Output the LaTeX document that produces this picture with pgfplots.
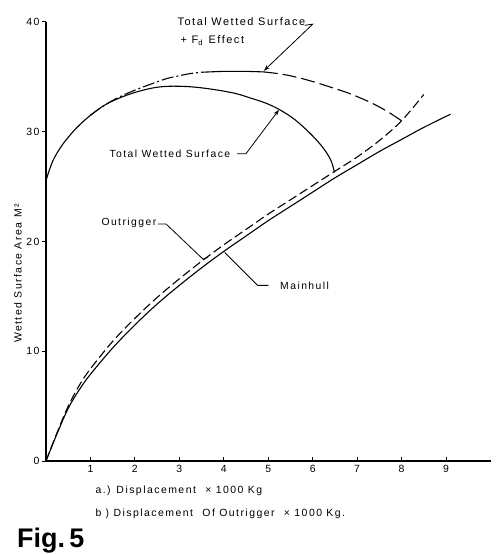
\documentclass[border=0pt]{standalone}
\usepackage{fontspec}
\setmainfont{Liberation Sans}[LetterSpace=14]
\newfontfamily\figfont{Liberation Sans}
\usepackage{pgfplots}
\pgfplotsset{compat=1.18}
\usetikzlibrary{arrows.meta}
\begin{document}
\begin{tikzpicture}
\path[use as bounding box] (0,0) rectangle (500bp,554bp);
\begin{axis}[
  at={(46bp,93bp)}, anchor=south west,
  scale only axis, width=444.5bp, height=439bp,
  xmin=0, xmax=10, ymin=0, ymax=40,
  axis x line=bottom, axis y line=left,
  axis line style={-, line width=1.1pt},
  xtick={1,...,9}, ytick={0,10,20,30,40},
  xtick align=inside, ytick align=outside,
  major tick length=4bp,
  every tick/.style={black, line width=1pt},
  tick label style={font=\fontsize{10.5}{12}\selectfont},
  xticklabel style={yshift=-1bp},
  yticklabel style={xshift=1bp},
  /pgf/number format/assume math mode=true,
  clip=false,
  cycle list={{black,solid,no markers}},
  every axis plot/.append style={black, line width=1.1pt, smooth, tension=0.55, no markers},
]
% Mainhull (solid)
\addplot[solid] coordinates {(0,0) (0.25,2.5) (0.5,4.8) (0.75,6.5) (1,7.9) (1.5,10.3) (2,12.4) (2.5,14.3) (3,16.0) (3.5,17.6) (4,19.1) (4.5,20.5) (5,21.9) (5.5,23.2) (6,24.5) (6.5,25.8) (7,27.0) (7.5,28.2) (8,29.3) (8.5,30.4) (9.1,31.6)};
% Outrigger (dashed)
\addplot[dash pattern=on 9bp off 4bp] coordinates {(0,0) (0.25,2.6) (0.5,5.0) (0.75,6.9) (1,8.4) (1.5,10.9) (2,13.0) (2.5,14.9) (3,16.6) (3.5,18.2) (4,19.7) (4.5,21.1) (5,22.5) (5.5,23.8) (6,25.1) (6.5,26.4) (7,27.7) (7.5,29.2) (8,31.0) (8.5,33.4)};
% Total wetted surface (solid)
\addplot[solid] coordinates {(0,25.5) (0.05,26.2) (0.16,27.4) (0.3,28.4) (0.46,29.3) (0.7,30.4) (1,31.5) (1.35,32.5) (1.73,33.2) (2.1,33.7) (2.49,34.05) (2.85,34.15) (3.24,34.1) (3.6,33.95) (4,33.7) (4.3,33.45) (4.58,33.1) (4.95,32.6) (5.26,32.0) (5.6,31.1) (5.93,29.9) (6.15,28.95) (6.31,28.1) (6.42,27.3) (6.49,26.3)};
% Total wetted surface + Fd effect
\addplot[dash pattern=on 12bp off 3bp on 2bp off 3bp] coordinates {(1,31.5) (1.2,32.1) (1.5,32.85) (1.8,33.45) (2.1,33.95) (2.4,34.4) (2.72,34.85) (3.0,35.1) (3.24,35.3) (3.5,35.42)};
\addplot[solid] coordinates {(3.5,35.42) (4,35.5) (4.5,35.5) (4.9,35.45)};
\addplot[dash pattern=on 14bp off 5bp] coordinates {(4.9,35.45) (5.3,35.25) (5.71,34.9) (6.1,34.45) (6.45,34.0) (6.75,33.6) (7.06,33.1) (7.36,32.55) (7.66,31.9) (7.85,31.4) (8.0,31.0)};

% annotations
\node[anchor=west, font=\fontsize{11}{13}\selectfont] at (axis cs:2.88,40.0) {Total Wetted Surface};
\node[anchor=west, font=\fontsize{11}{13}\selectfont] at (axis cs:2.95,38.3) {+ F\textsubscript{d}\enspace Effect};
\draw[line width=0.8pt, -{Stealth[length=6bp,width=4bp]}] (axis cs:5.82,39.7) -- (axis cs:6.0,39.8) -- (axis cs:4.9,35.55);

\node[anchor=west, font=\fontsize{10.4}{13}\selectfont] at (axis cs:1.35,28.0) {Total Wetted Surface};
\draw[line width=0.8pt, -{Stealth[length=6bp,width=4bp]}] (axis cs:4.3,28.0) -- (axis cs:4.5,28.0) -- (axis cs:5.24,32.0);

\node[anchor=west, font=\fontsize{10.4}{13}\selectfont] at (axis cs:1.17,21.7) {Outrigger};
\draw[line width=0.8pt] (axis cs:2.52,21.6) -- (axis cs:2.7,21.6) -- (axis cs:3.53,18.4) -- (axis cs:3.64,18.55);

\node[anchor=west, font=\fontsize{10.4}{13}\selectfont] at (axis cs:5.19,16.0) {Mainhull};
\draw[line width=0.8pt] (axis cs:5.0,16.0) -- (axis cs:4.76,16.0) -- (axis cs:4.02,19.0);

\node[rotate=90, font=\fontsize{10.5}{12}\selectfont] at (axis cs:-0.63,17.1) {Wetted Surface Area\enspace M²};
\end{axis}
\node[anchor=base west, font=\fontsize{10.5}{12}\selectfont] at (92bp,60bp) {a.) Displacement\hspace{5bp} × 1000 Kg};
\node[anchor=base west, font=\fontsize{10.5}{12}\selectfont] at (92bp,38bp) {b ) Displacement\hspace{5bp} Of Outrigger\hspace{5bp} × 1000 Kg.};
\node[anchor=base west, inner sep=0pt, font=\figfont\bfseries\fontsize{27}{30}\selectfont] at (17bp,7bp) {Fig.\,5};
\end{tikzpicture}
\end{document}
